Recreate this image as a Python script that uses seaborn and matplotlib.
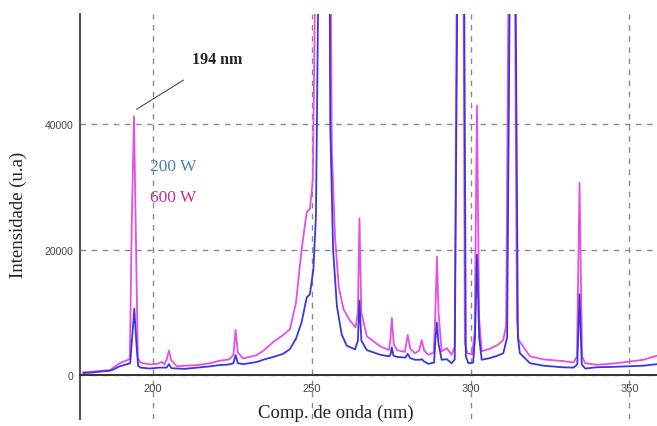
import matplotlib
matplotlib.use("Agg")
import matplotlib.pyplot as plt
import seaborn as sns
import pandas as pd

# wavelength (nm) / intensity (u.a), saturated peaks go past the top
wl_600 = [178, 181, 184, 186.5, 187.5, 189.5, 191.5, 192.7, 193.3, 194.0, 194.6, 195.2,
          196, 199, 201.5, 202.7, 203.6, 204.3, 205.0, 205.7, 207.5, 210, 214, 218,
          221, 224, 225.3, 226.0, 226.7, 228.4, 232.7, 235, 237.9, 241, 243.1, 245,
          246.8, 248.4, 249.4, 250.3, 251.0, 252, 254, 255.5, 256.3, 257.3, 258.5, 260,
          262, 263.8, 264.5, 265.0, 265.6, 267.3, 271.5, 274.3, 274.7, 275.2, 275.8, 276.8,
          279.3, 280.2, 281, 282.5, 283.8, 284.6, 285.4, 286.7, 288.4, 288.9, 289.4, 289.9,
          290.9, 292.5, 294, 295, 295.6, 296.8, 297.8, 298.2, 299, 300.5, 301.3, 302.0,
          302.7, 303.5, 306, 308.5, 310.3, 311.2, 311.9, 313, 314, 314.6, 315.1, 318.7,
          323, 329, 332.4, 333.5, 334.3, 335.1, 336.1, 339.7, 344, 349.2, 354.4, 358.7]
int_600 = [450, 550, 700, 800, 1200, 1900, 2300, 2600, 24000, 41300, 22000, 2800,
           2000, 1700, 1800, 2100, 1700, 2500, 3900, 2400, 1400, 1500, 1600, 1900,
           2300, 2500, 3200, 7200, 3600, 2650, 3200, 4000, 5300, 6400, 7300, 11500,
           20100, 26000, 26500, 31000, 60000, 120000, 150000, 100000, 36000, 22000, 14000, 10500,
           8700, 7600, 10000, 25000, 10000, 6200, 4600, 4000, 5500, 9100, 5000, 4000,
           3700, 6400, 4200, 3500, 3900, 5600, 3900, 3250, 3600, 10000, 18900, 10000,
           3800, 4300, 3250, 4500, 60000, 150000, 60000, 5000, 3500, 3300, 7000, 43000,
           9000, 3800, 4200, 4800, 5600, 8000, 60000, 150000, 60000, 9000, 5600, 3000,
           2500, 2250, 2000, 3000, 30700, 3000, 1900, 1650, 1800, 2100, 2450, 3100]

wl_200 = [178, 181, 184, 186.5, 187.5, 189.5, 191.5, 192.8, 193.5, 194.1, 194.7, 195.3,
          196, 199, 202, 204.3, 205.0, 205.8, 207.5, 210, 214, 218, 221, 224,
          225.3, 226.0, 226.7, 228.4, 232.7, 235, 237.9, 241, 243.1, 245, 246.8, 248.4,
          249.4, 250.5, 251.3, 252.0, 253, 255, 255.8, 256.7, 257.9, 259.4, 261, 263.6,
          264.5, 265.0, 265.6, 267.3, 271.5, 274.3, 274.8, 275.2, 275.7, 276.8, 279.5, 280.2,
          281, 282.5, 284, 284.6, 285.3, 286.7, 288.5, 288.9, 289.4, 289.9, 290.9, 292.5,
          294, 295, 295.8, 296.8, 298, 298.5, 299.3, 300.8, 301.4, 302.0, 302.7, 303.5,
          306, 308.5, 310.3, 311.5, 312.3, 313.3, 314.2, 314.9, 315.5, 318.7, 323, 329,
          332.4, 333.6, 334.3, 335.0, 336.1, 339.7, 344, 349.2, 354.4, 358.7]
int_200 = [330, 420, 600, 700, 900, 1400, 1700, 1900, 6500, 10600, 5500, 1500,
           1200, 1050, 1200, 1200, 1750, 1100, 1050, 1000, 1200, 1400, 1600, 1700,
           1900, 3200, 1900, 1750, 2100, 2500, 2900, 3400, 4150, 5800, 8450, 12400,
           12900, 16900, 25400, 60000, 150000, 150000, 40000, 20000, 11000, 6500, 4700, 4100,
           5500, 11900, 5500, 4000, 3250, 3000, 3300, 4450, 3100, 2900, 2800, 3400,
           2700, 2450, 2450, 2550, 2200, 1800, 2000, 5500, 8400, 5000, 2450, 2550,
           1900, 2500, 60000, 150000, 60000, 3000, 1900, 2000, 6000, 19200, 6000, 2450,
           2700, 3100, 3500, 6000, 60000, 150000, 60000, 6000, 3500, 1900, 1500, 1250,
           1200, 1700, 12900, 1700, 1050, 1250, 1300, 1400, 1500, 1750]

x_ticks = [200, 250, 300, 350]
y_ticks = [0, 20000, 40000]

df600 = pd.DataFrame({"wl": wl_600, "intensity": int_600})
df200 = pd.DataFrame({"wl": wl_200, "intensity": int_200})

sns.set_style("white")
serif = ["Liberation Serif", "DejaVu Serif"]

fig = plt.figure(figsize=(6.57, 4.27), dpi=100)
ax = fig.add_axes([80 / 657, 7 / 427, 577 / 657, 405 / 427])

sns.lineplot(data=df600, x="wl", y="intensity", ax=ax, color="#e64ee6",
             linewidth=1.3, estimator=None, sort=False)
sns.lineplot(data=df200, x="wl", y="intensity", ax=ax, color="#3b36dc",
             linewidth=1.3, estimator=None, sort=False)

ax.set_xlim(177, 358.7)
ax.set_ylim(-7000, 57600)
ax.set_xticks(x_ticks)
ax.set_yticks(y_ticks)

# dashed grid
for xv in x_ticks:
    ax.axvline(xv, color="#8a8a8a", lw=1, ls=(0, (4, 4)), zorder=0)
for yv in y_ticks:
    ax.axhline(yv, color="#8a8a8a", lw=1, ls=(0, (4, 4)), zorder=0)

for s in ["top", "right"]:
    ax.spines[s].set_visible(False)
ax.spines["bottom"].set_position(("data", 0))
ax.spines["bottom"].set_color("#333333")
ax.spines["bottom"].set_linewidth(1.4)
ax.spines["left"].set_color("#555555")
ax.spines["left"].set_linewidth(1.5)

ax.tick_params(axis="x", direction="inout", length=7, width=1, color="#444444",
               labelsize=8, labelcolor="#444444", pad=2)
ax.tick_params(axis="y", direction="out", length=4, width=1, color="#444444",
               labelsize=7.5, labelcolor="#444444", pad=1)
for lab in ax.get_xticklabels() + ax.get_yticklabels():
    lab.set_family("Liberation Sans")

ax.set_xlabel("Comp. de onda (nm)", fontsize=13.5, family=serif, color="#222222")
ax.xaxis.set_label_coords(0.444, 0.038)
ax.set_ylabel("Intensidade (u.a)", fontsize=13.5, family=serif, color="#222222")
ax.yaxis.set_label_coords(-0.092, 0.506)

ax.text(199.1, 33300, "200 W", color="#4f7fb2", fontsize=12.5, family=serif, va="center")
ax.text(199.1, 28400, "600 W", color="#c5308e", fontsize=12.5, family=serif, va="center")

ax.annotate("194 nm", xy=(194.8, 42400), xytext=(220.2, 50400),
            fontsize=11.5, fontweight="bold", family=serif, color="#222222",
            ha="center", va="center",
            arrowprops=dict(arrowstyle="-", color="#333333", lw=0.7,
                            shrinkA=13, shrinkB=0))

fig.savefig("out.png", dpi=100)
